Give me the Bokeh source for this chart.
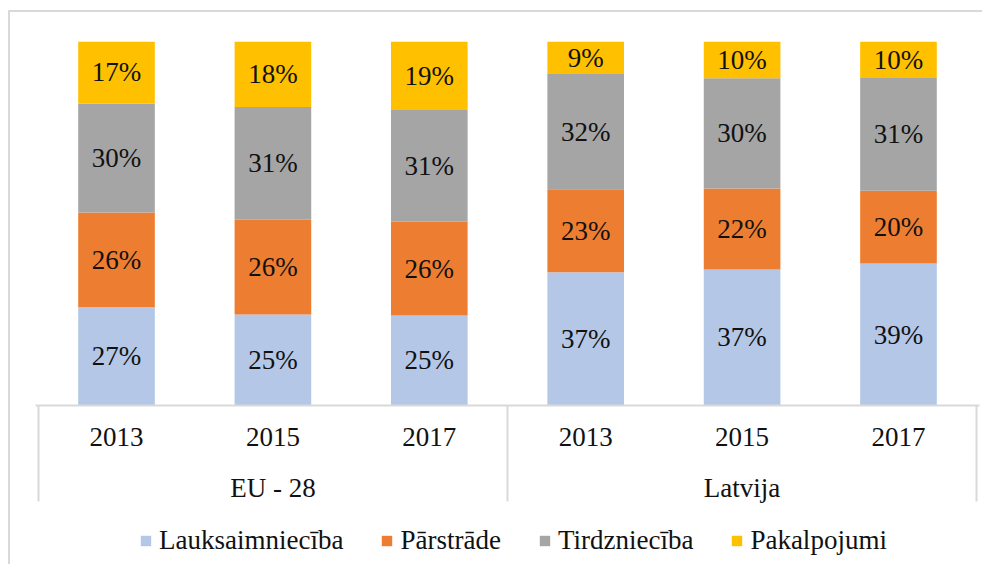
from bokeh.plotting import figure
from bokeh.models import (FactorRange, Range1d, CategoricalAxis,
                          ColumnDataSource, Legend, LegendItem)
from bokeh.core.properties import value
from bokeh.embed import file_html
from bokeh.resources import INLINE

groups = ["EU - 28", "Latvija"]
years = ["2013", "2015", "2017"]
sectors = ["Lauksaimniecība", "Pārstrāde", "Tirdzniecība", "Pakalpojumi"]
lauksaimnieciba = [27, 25, 25, 37, 37, 39]
parstrade = [26, 26, 26, 23, 22, 20]
tirdznieciba = [30, 31, 31, 32, 30, 31]
pakalpojumi = [17, 18, 19, 9, 10, 10]
colors = ["#B4C7E7", "#ED7D31", "#A5A5A5", "#FFC000"]

FONT = "Liberation Serif"
FS = "27px"
TXT = "#111111"
GRAY = "#d9d9d9"

factors = [(g, y) for g in groups for y in years]
series = [lauksaimnieciba, parstrade, tirdznieciba, pakalpojumi]
totals = [sum(v) for v in zip(*series)]
data = {"x": factors}
for name, vals in zip(sectors, series):
    data[name] = [v / t * 100 for v, t in zip(vals, totals)]
source = ColumnDataSource(data)

# layout (content pixels)
W, H = 974, 554
TOP, ZERO_Y, BOTTOM = 29, 393, 554          # frame top, y=0 line, frame bottom
PAD = 0.05                                   # category padding at both ends
y_min = -100 * (BOTTOM - ZERO_Y) / (ZERO_Y - TOP)

p = figure(x_range=FactorRange(*factors, group_padding=0, range_padding=PAD,
                               range_padding_units="absolute", factor_padding=0),
           y_range=Range1d(y_min, 100), width=W, height=H,
           output_backend="svg", toolbar_location=None,
           x_axis_location=None, y_axis_location=None,
           min_border_left=20, min_border_right=0, min_border_top=TOP,
           min_border_bottom=H - BOTTOM)
p.grid.visible = False
p.outline_line_color = None
p.background_fill_color = "white"
p.border_fill_color = "white"
p.styles = {"border-top": f"2px solid {GRAY}", "border-left": f"2px solid {GRAY}",
            "margin-top": "10px", "margin-left": "8px"}

renderers = p.vbar_stack(sectors, x="x", width=0.49, source=source, color=colors,
                         line_color=None)

# percentage labels centred in each segment
lx, ly, lt = [], [], []
for i, f in enumerate(factors):
    bottom = 0.0
    for name, vals in zip(sectors, series):
        h = data[name][i]
        lx.append(f)
        ly.append(bottom + h / 2)
        lt.append(f"{vals[i]}%")
        bottom += h
p.text(x="x", y="y", text="t", source=ColumnDataSource(dict(x=lx, y=ly, t=lt)),
       text_font=value(FONT), text_font_size=FS, text_color=TXT,
       text_align="center", text_baseline="middle")

# separator lines (ticks at the group boundaries) + horizontal axis line
p.extra_x_ranges = {
    "sep": FactorRange(" ", "  ", "   ", range_padding=-0.5 + PAD / 3,
                       range_padding_units="absolute", factor_padding=0),
    "grp": FactorRange(*groups, range_padding=PAD / 3,
                       range_padding_units="absolute", factor_padding=0),
}
sep = CategoricalAxis(x_range_name="sep", fixed_location=0, bounds=(0.494, 2.506),
                      major_tick_in=0, major_tick_out=96, major_tick_line_color=GRAY,
                      major_tick_line_width=2, axis_line_color=GRAY, axis_line_width=2,
                      major_label_text_color=None, separator_line_color=None)
p.add_layout(sep, "below")

# year labels
yax = CategoricalAxis(fixed_location=0, major_tick_line_color=None, axis_line_color=None,
                      major_label_standoff=16, major_label_text_font=FONT,
                      major_label_text_font_size=FS, major_label_text_color=TXT,
                      group_text_color=None, separator_line_color=None)
p.add_layout(yax, "below")

# group labels
gax = CategoricalAxis(x_range_name="grp", fixed_location=0, major_tick_line_color=None,
                      axis_line_color=None, major_label_standoff=61,
                      major_label_text_font=FONT, major_label_text_font_size=FS,
                      major_label_text_color=TXT, separator_line_color=None)
p.add_layout(gax, "below")

legend = Legend(items=[LegendItem(label=s, renderers=[r]) for s, r in zip(sectors, renderers)],
                orientation="horizontal", location=(109, 10), margin=0, padding=0,
                spacing=37, label_standoff=7, glyph_width=13, glyph_height=13,
                label_text_font=FONT, label_text_font_size=FS, label_text_color=TXT,
                border_line_color=None, background_fill_alpha=0)
p.add_layout(legend, "center")

open("out.html", "w").write(file_html(p, INLINE))
